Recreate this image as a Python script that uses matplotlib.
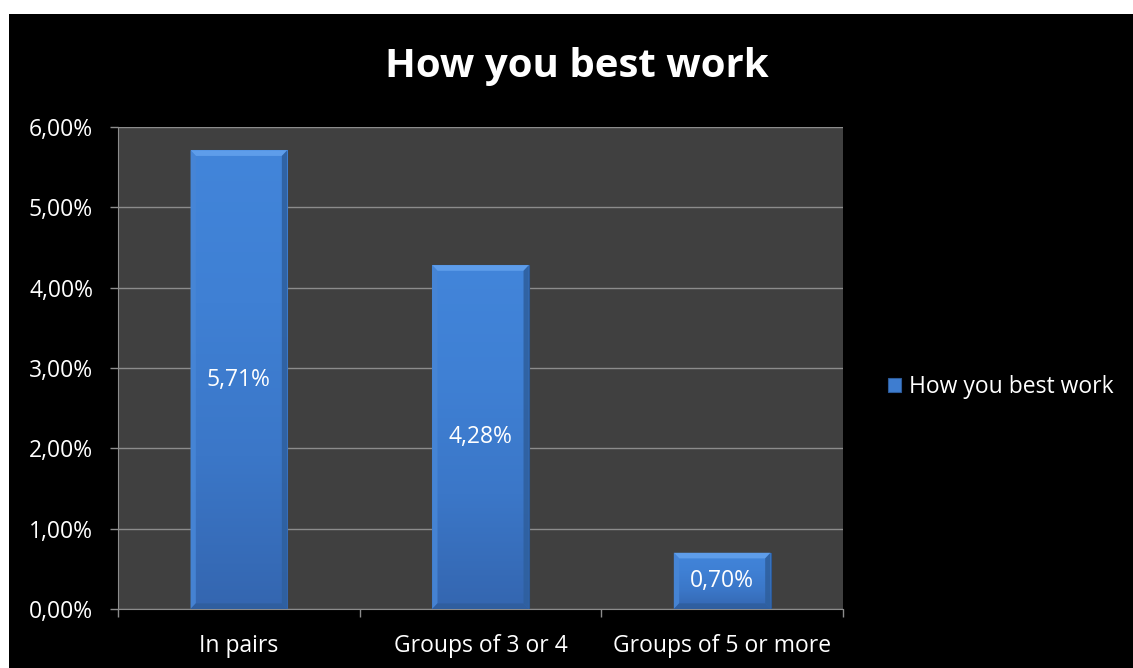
import numpy as np
import matplotlib
matplotlib.use("Agg")
import matplotlib.pyplot as plt
from matplotlib.patches import Rectangle, Polygon
from matplotlib.ticker import MultipleLocator, FuncFormatter

# Survey answers: share of respondents per preferred working setup
categories = ["In pairs", "Groups of 3 or 4", "Groups of 5 or more"]
shares = [5.71, 4.28, 0.70]
series_name = "How you best work"

plt.rcParams['font.family'] = ['Open Sans', 'DejaVu Sans']

fig = plt.figure(figsize=(11.33, 6.68), dpi=100, facecolor='white')
# black chart area inside the thin white frame
fig.patches.append(Rectangle((9 / 1133, 0), 1 - 9 / 1133, 1 - 14 / 668,
                             transform=fig.transFigure, facecolor='black',
                             edgecolor='none', zorder=-1))

ax = fig.add_axes([118 / 1133, 1 - 609 / 668, 725 / 1133, 482 / 668])
ax.set_facecolor('#404040')

x = np.arange(len(categories))
width = 0.4
bars = ax.bar(x, shares, width, color='#3e7dd0', edgecolor='#2c5a98',
              linewidth=0.8, zorder=3, label=series_name)

# bevelled bars: vertical gradient face plus four edge facets
grad = np.linspace(0, 1, 256).reshape(-1, 1)
cmap = matplotlib.colors.LinearSegmentedColormap.from_list(
    'bar', ['#3466b0', '#3b77c8', '#3f80d4', '#4285da'])
bx, by = 0.022, 0.07
for b in bars:
    x0, w, h = b.get_x(), b.get_width(), b.get_height()
    x1 = x0 + w
    im = ax.imshow(grad, extent=(x0, x1, 0, h), origin='lower',
                   cmap=cmap, aspect='auto', zorder=3.5)
    im.set_clip_path(b)
    facets = [
        ([(x0, h), (x1, h), (x1 - bx, h - by), (x0 + bx, h - by)], '#62a0ec'),
        ([(x0, 0), (x0, h), (x0 + bx, h - by), (x0 + bx, by)], '#4786d6'),
        ([(x1, 0), (x1, h), (x1 - bx, h - by), (x1 - bx, by)], '#2f609f'),
        ([(x0, 0), (x1, 0), (x1 - bx, by), (x0 + bx, by)], '#2f5e9e'),
    ]
    for pts, c in facets:
        ax.add_patch(Polygon(pts, closed=True, facecolor=c, edgecolor='none',
                             alpha=0.9, zorder=4))
    ax.text(x0 + w / 2, h / 2, f"{h:.2f}%".replace('.', ','),
            ha='center', va='center', color='white', fontsize=16.5, zorder=5)

ax.set_xlim(-0.5, len(categories) - 0.5)
ax.set_ylim(0, 6)
ax.yaxis.set_major_locator(MultipleLocator(1))
ax.yaxis.set_major_formatter(FuncFormatter(lambda v, p: f"{v:.2f}%".replace('.', ',')))
ax.grid(axis='y', color='#8c8c8c', lw=1, zorder=1)
ax.set_axisbelow(True)

ax.set_xticks(x)
ax.set_xticklabels(categories)
ax.set_xticks(np.arange(-0.5, len(categories)), minor=True)
ax.tick_params(axis='x', which='major', length=0, pad=18, labelsize=16.5, colors='white')
ax.tick_params(axis='x', which='minor', length=6, color='#8c8c8c', width=1)
ax.tick_params(axis='y', length=6, color='#8c8c8c', width=1, labelsize=16.5,
               labelcolor='white', pad=12)

for side in ('top', 'right'):
    ax.spines[side].set_visible(False)
for side in ('left', 'bottom'):
    ax.spines[side].set_color('#8c8c8c')

fig.text(577 / 1133, 1 - 66 / 668, series_name, ha='center', va='center',
         color='white', fontsize=29, fontweight='bold')

leg = ax.legend(loc='center left', bbox_to_anchor=(1.033, 0.46), frameon=False,
                fontsize=16.5, handlelength=0.6, handleheight=0.6, handletextpad=0.35,
                labelcolor='white')

fig.savefig('out.png', dpi=100, facecolor=fig.get_facecolor())
